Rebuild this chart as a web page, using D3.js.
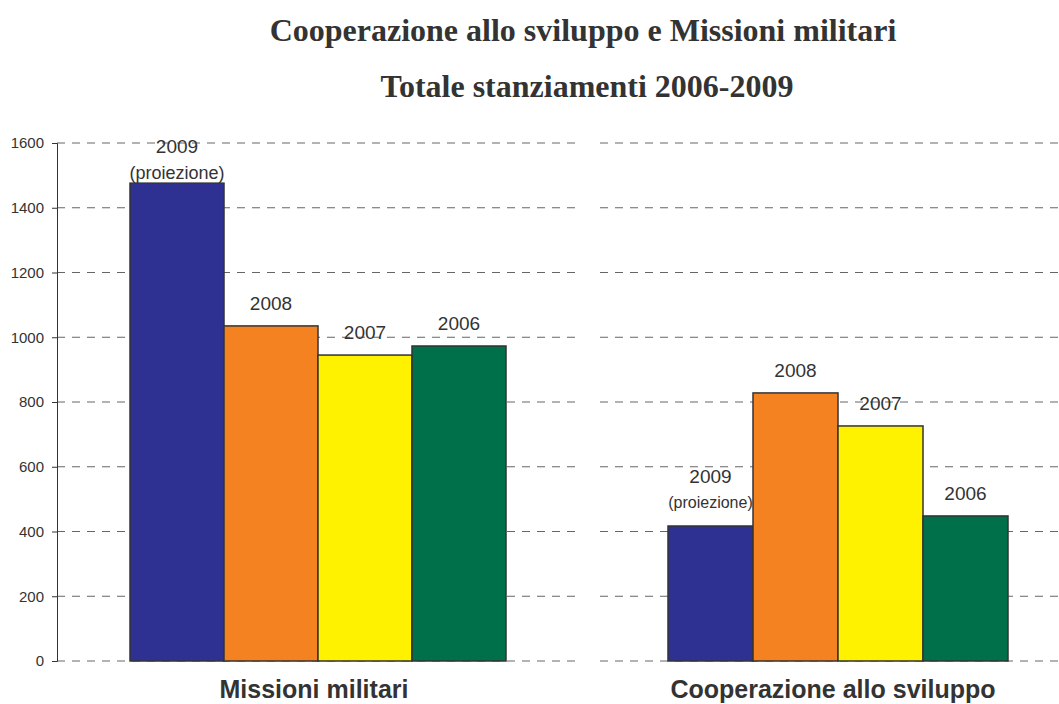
<!DOCTYPE html>
<html>
<head>
<meta charset="utf-8">
<script src="https://cdn.jsdelivr.net/npm/d3@7"></script>
<style>
  body { margin: 0; background: #fff; }
  text { font-family: "Liberation Sans", Arial, sans-serif; fill: #333; }
</style>
</head>
<body>
<div id="chart"></div>
<script>
var width = 1059
var height = 704

// data
var years = ['2009', '2008', '2007', '2006']
var missioni = [1476, 1035, 945, 973]
var cooperazione = [417, 828, 726, 448]
var groups = ['Missioni militari', 'Cooperazione allo sviluppo']
var yTicks = [0, 200, 400, 600, 800, 1000, 1200, 1400, 1600]
var colors = ['#2e3192', '#f58220', '#fff200', '#00704a']

var svg = d3.select('#chart').append('svg')
  .attr('width', width)
  .attr('height', height)

var y = d3.scaleLinear().domain([0, 1600]).range([661, 143])

// title
var titles = ['Cooperazione allo sviluppo e Missioni militari', 'Totale stanziamenti 2006-2009']
svg.selectAll('.title')
  .data(titles)
  .enter().append('text')
  .attr('x', (d, i) => i === 0 ? 583 : 587)
  .attr('y', (d, i) => i === 0 ? 41 : 97)
  .attr('text-anchor', 'middle')
  .style('font-family', '"Liberation Serif", "Times New Roman", serif')
  .style('font-weight', 'bold')
  .style('font-size', '32px')
  .style('fill', '#333')
  .text(d => d)

// gridlines
var panels = [
  { values: missioni, x0: 130, x1: 506, g0: 57, g1: 580, cx: 314 },
  { values: cooperazione, x0: 668, x1: 1008, g0: 600, g1: 1059, cx: 833 }
]

panels.forEach(function (p) {
  svg.append('g').selectAll('line')
    .data(yTicks)
    .enter().append('line')
    .attr('x1', p.g0).attr('x2', p.g1)
    .attr('y1', d => y(d)).attr('y2', d => y(d))
    .attr('stroke', '#666')
    .attr('stroke-width', 1)
    .attr('stroke-dasharray', '8,7')
})

// y axis
var axis = svg.append('g')
  .attr('transform', 'translate(57,0)')
  .call(d3.axisLeft(y).tickValues(yTicks).tickFormat(d3.format('d')).tickSize(5).tickPadding(8))
axis.select('.domain').attr('stroke', '#333')
axis.selectAll('.tick line').attr('stroke', '#333')
axis.selectAll('.tick text')
  .style('font-size', '15px')
  .style('font-family', '"Liberation Sans", Arial, sans-serif')
  .attr('fill', '#333')

// bars
panels.forEach(function (p, pi) {
  var x = d3.scaleBand().domain(years).range([p.x0, p.x1]).padding(0)
  var g = svg.append('g')

  g.selectAll('rect')
    .data(p.values)
    .enter().append('rect')
    .attr('x', (d, i) => x(years[i]))
    .attr('y', d => y(d))
    .attr('width', x.bandwidth())
    .attr('height', d => y(0) - y(d))
    .attr('fill', (d, i) => colors[i])
    .attr('stroke', '#333')
    .attr('stroke-width', 1.5)

  g.selectAll('.year')
    .data(p.values)
    .enter().append('text')
    .attr('x', (d, i) => x(years[i]) + x.bandwidth() / 2)
    .attr('y', function (d, i) {
      if (i === 0) return pi === 0 ? y(d) - 30 : y(d) - 43
      return y(d) - 16
    })
    .attr('text-anchor', 'middle')
    .style('font-size', '19px')
    .text((d, i) => years[i])

  g.append('text')
    .attr('x', x(years[0]) + x.bandwidth() / 2)
    .attr('y', pi === 0 ? y(p.values[0]) - 4 : y(p.values[0]) - 18)
    .attr('text-anchor', 'middle')
    .style('font-size', pi === 0 ? '18px' : '16px')
    .text('(proiezione)')

  svg.append('text')
    .attr('x', p.cx).attr('y', 698)
    .attr('text-anchor', 'middle')
    .style('font-size', '25px')
    .style('font-weight', 'bold')
    .text(groups[pi])
})
</script>
</body>
</html>
